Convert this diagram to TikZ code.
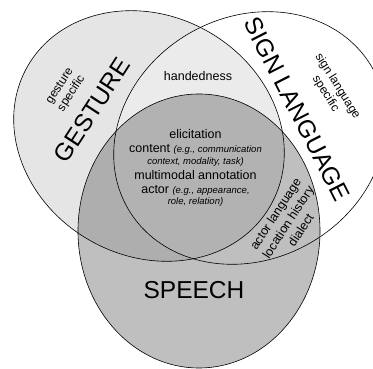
\documentclass[tikz,border=0pt]{standalone}
\usepackage{fontspec}
\setmainfont{Liberation Sans}
\begin{document}
\begin{tikzpicture}[x=1pt,y=1pt,
  outline/.style={draw=black, line width=0.6pt},
  title/.style={font=\fontsize{24.5}{29}\selectfont, inner sep=0pt},
  body/.style={font=\fontsize{12.5}{15}\selectfont, inner sep=0pt},
  aside/.style={font=\fontsize{12}{14}\selectfont, align=center, inner sep=0pt},
  sidebox/.style={font=\fontsize{12.5}{15}\selectfont, align=center, inner sep=0pt},
]
\newcommand\eg[1]{{\fontsize{9.5}{11}\selectfont\itshape #1}}
\useasboundingbox (0,0) rectangle (373,369);

% set fills: gesture tinted, sign language lightens what it covers, speech darkens
\fill[black!10] (149,233) ellipse [x radius=140pt, y radius=120pt, rotate=-30];
\fill[white, fill opacity=0.25] (250,231) ellipse [x radius=141pt, y radius=121pt, rotate=30];
\fill[black!69, fill opacity=0.36] (199,138) ellipse [x radius=121pt, y radius=137pt];

% set outlines
\draw[outline] (149,233) ellipse [x radius=140pt, y radius=120pt, rotate=-30];
\draw[outline] (250,231) ellipse [x radius=141pt, y radius=121pt, rotate=30];
\draw[outline] (199,138) ellipse [x radius=121pt, y radius=137pt];

% set names
\node[title, rotate=57] (gesture) at (92,259) {GESTURE};
\node[title, rotate=-63] (signlang) at (297,260) {SIGN LANGUAGE};
\node[title] (speech) at (194,79) {SPEECH};

% region labels
\node[aside, rotate=57] (gspec) at (66,279) {gesture\\specific};
\node[aside, rotate=-58] (sspec) at (331.5,279) {sign language\\specific};
\node[body, anchor=base] (hand) at (198,288) {handedness};
\node[sidebox, rotate=57] (ssp) at (288,147) {actor language\\location history\\dialect};

% shared centre
\node[body, anchor=base] (c1) at (195.5,230) {elicitation};
\node[body, anchor=base] (c2) at (195.5,216) {content \eg{(e.g., communication}};
\node[body, anchor=base] (c3) at (195.5,204) {\eg{context, modality, task)}};
\node[body, anchor=base] (c4) at (195.5,189) {multimodal annotation};
\node[body, anchor=base] (c5) at (195.5,175) {actor \eg{(e.g., appearance,}};
\node[body, anchor=base] (c6) at (195.5,164) {\eg{role, relation)}};
\end{tikzpicture}
\end{document}
